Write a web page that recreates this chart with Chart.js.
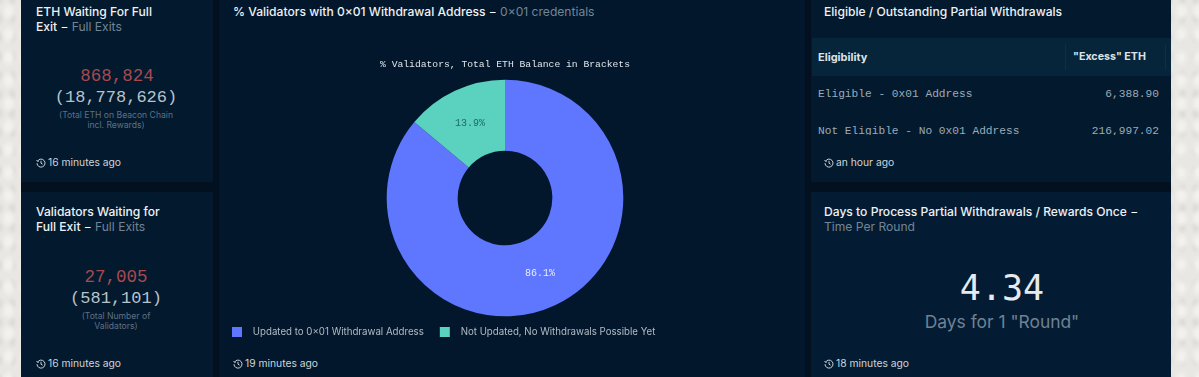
<!DOCTYPE html>
<html><head><meta charset="utf-8">
<script src="https://cdn.jsdelivr.net/npm/chart.js@4"></script>
<style>
html,body{margin:0;padding:0;width:1199px;height:377px;overflow:hidden;background:#e9e7e3;font-family:Inter,sans-serif}
#paper{position:absolute;inset:0;background-image:radial-gradient(#f2f1ee 18%,transparent 60%),radial-gradient(#dfddd8 12%,transparent 55%);background-size:17px 23px,13px 19px;background-position:0 0,6px 9px}
#dash{position:absolute;left:21px;top:0;width:1150px;height:377px;background:#02101f}
.p{position:absolute;background:#03192e;overflow:hidden}
.t{position:absolute;font-size:12.1px;line-height:15px;font-weight:500;color:#eef1f4}
.t span{color:#728596;font-weight:400}
.foot{position:absolute;font-size:10.3px;color:#cdd4da;white-space:nowrap}
.foot svg{vertical-align:-1.5px;margin-right:2px}
.m{position:absolute;text-align:center;font-family:"Liberation Mono",monospace;white-space:nowrap}
.s{position:absolute;text-align:center;font-size:8.6px;line-height:10px;color:#5f7283}
#chartBox{position:absolute;left:195px;top:44px;width:578px;height:303px}
.row{position:absolute;left:0;right:0;font-family:"Liberation Mono",monospace;font-size:11.2px;color:#9aabb8;white-space:nowrap}
</style></head><body>
<div id="paper"></div>
<div id="dash">
  <div class="p" style="left:0;top:0;width:192px;height:182px"></div>
  <div class="p" style="left:0;top:192px;width:192px;height:185px"></div>
  <div class="p" style="left:198px;top:0;width:586px;height:377px;background:#02172b"></div>
  <div class="p" style="left:790px;top:0;width:360px;height:182px"></div>
  <div class="p" style="left:790px;top:192px;width:360px;height:185px;background:#031c33"></div>

  <div class="t" style="left:15px;top:4px;width:130px">ETH Waiting For Full Exit <span style="color:#fff">&minus;</span> <span>Full Exits</span></div>
  <div class="m" style="left:0;width:192px;top:66px;font-size:17.5px;color:#a8494e">868,824</div>
  <div class="m" style="left:0;width:190px;top:88px;font-size:17px;color:#b7c3cc">(18,778,626)</div>
  <div class="s" style="left:20px;width:150px;top:110px">(Total ETH on Beacon Chain<br>incl. Rewards)</div>
  <div class="foot" style="left:15px;top:156px" data-f="16 minutes ago"></div>

  <div class="t" style="left:15px;top:204px;width:130px">Validators Waiting for Full Exit <span style="color:#fff">&minus;</span> <span>Full Exits</span></div>
  <div class="m" style="left:0;width:190px;top:267px;font-size:17.5px;color:#a8494e">27,005</div>
  <div class="m" style="left:0;width:190px;top:289px;font-size:17px;color:#b7c3cc">(581,101)</div>
  <div class="s" style="left:20px;width:150px;top:311px">(Total Number of<br>Validators)</div>
  <div class="foot" style="left:15px;top:357px" data-f="16 minutes ago"></div>

  <div class="t" style="left:212px;top:4px;white-space:nowrap">% Validators with 0&times;01 Withdrawal Address <span style="color:#fff">&minus;</span> <span>0&times;01 credentials</span></div>
  <div class="foot" style="left:212px;top:357px" data-f="19 minutes ago"></div>

  <div class="t" style="left:803px;top:4px;white-space:nowrap">Eligible / Outstanding Partial Withdrawals</div>
  <div class="p" style="left:791px;top:38px;width:359px;height:97px;background:transparent">
    <div style="position:absolute;left:0;right:0;top:0;height:38px;background:#06253a"></div>
    <div style="position:absolute;left:253px;top:6px;width:1px;height:26px;background:#0d3044"></div>
    <div style="position:absolute;left:353px;top:6px;width:1px;height:26px;background:#0d3044"></div>
    <div style="position:absolute;left:6px;top:12px;font-size:11px;font-weight:700;color:#dbe3e8">Eligibility</div>
    <div style="position:absolute;left:261px;top:12px;font-size:10.7px;font-weight:700;color:#dbe3e8">"Excess" ETH</div>
    <div class="row" style="top:50px;padding-left:6px">Eligible - 0x01 Address<span style="position:absolute;right:12px">6,388.90</span></div>
    <div class="row" style="top:87px;padding-left:6px">Not Eligible - No 0x01 Address<span style="position:absolute;right:12px">216,997.02</span></div>
  </div>
  <div class="foot" style="left:803px;top:156px" data-f="an hour ago"></div>

  <div class="t" style="left:803px;top:204px;width:330px">Days to Process Partial Withdrawals / Rewards Once <span style="color:#fff">&minus;</span> <span>Time Per Round</span></div>
  <div class="m" style="left:790px;width:382px;top:268px;font-size:35px;font-family:'DejaVu Sans Mono',monospace;color:#e6eaee">4.34</div>
  <div style="position:absolute;left:790px;width:382px;top:311px;text-align:center;font-size:17.4px;color:#6f8293">Days for 1 "Round"</div>
  <div class="foot" style="left:803px;top:357px" data-f="18 minutes ago"></div>

  <div id="chartBox"><canvas id="c" width="578" height="303"></canvas></div>
</div>
<script>
const categories = ["Updated to 0\u00d701 Withdrawal Address", "Not Updated, No Withdrawals Possible Yet"];
const shares = [86.1, 13.9];
const sliceColors = ["#5f76fe", "#5bd2c0"];
const labelColors = ["#e8ecff", "#1f6a66"];
const chartTitle = "% Validators, Total ETH Balance in Brackets";

document.querySelectorAll('.foot').forEach(e=>{
  e.innerHTML='<svg width="10" height="10" viewBox="0 0 10 10" fill="none" stroke="#cdd4da" stroke-width="1"><path d="M1.6 3A4 4 0 1 1 1 5.2"/><path d="M5 2.8V5.2L6.6 6.2"/><path d="M0.6 2.2L1.5 3.4L2.9 3"/></svg>'+e.dataset.f;
});

function legendSwatch(color){
  const c=document.createElement('canvas');c.width=21;c.height=10;
  const x=c.getContext('2d');x.fillStyle=color;x.fillRect(5,0,10,10);return c;
}
const sliceLabels={id:'sliceLabels',afterDatasetsDraw(chart){
  const {ctx}=chart;const meta=chart.getDatasetMeta(0);
  ctx.save();ctx.font='10px "Liberation Mono", monospace';ctx.textAlign='center';ctx.textBaseline='middle';
  meta.data.forEach((arc,i)=>{const p=arc.tooltipPosition();ctx.fillStyle=labelColors[i];
    ctx.fillText(shares[i].toFixed(1)+'%',p.x,p.y);});
  ctx.restore();
}};
Chart.defaults.animation=false;
new Chart(document.getElementById('c'),{
  type:'doughnut',
  data:{labels:categories,datasets:[{data:shares,backgroundColor:sliceColors,borderWidth:0,hoverOffset:0}]},
  options:{responsive:false,cutout:'40%',rotation:0,
    layout:{padding:{left:0,right:0,top:15,bottom:0}},
    plugins:{
      tooltip:{enabled:false},
      title:{display:true,text:chartTitle,color:'#dfe5ea',font:{family:'"Liberation Mono", monospace',size:9.7,weight:'normal'},padding:{top:0,bottom:9}},
      legend:{position:'bottom',align:'start',labels:{color:'#b0bcc6',font:{family:'Inter',size:9.7},
        usePointStyle:true,pointStyleWidth:21,boxHeight:10,padding:11,
        generateLabels(chart){return categories.map((t,i)=>({text:t,fontColor:'#b0bcc6',fillStyle:sliceColors[i],strokeStyle:sliceColors[i],lineWidth:0,pointStyle:legendSwatch(sliceColors[i]),index:i,hidden:false}));}
      }}
    }},
  plugins:[sliceLabels]
});
</script>
</body></html>
